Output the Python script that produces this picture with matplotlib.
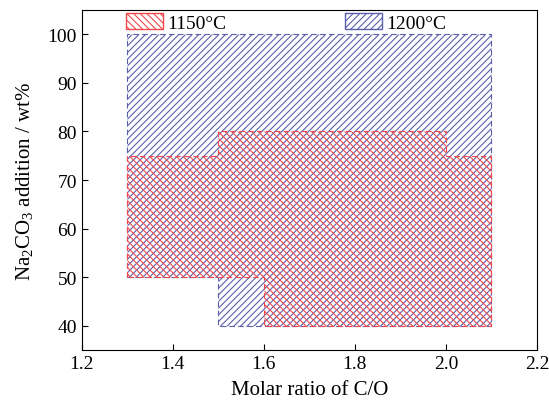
import matplotlib
matplotlib.use('Agg')
import matplotlib.pyplot as plt
from matplotlib.patches import Polygon, Patch

# region outlines (C/O ratio, Na2CO3 wt%)
co_1200 = [1.3, 1.3, 2.1, 2.1, 1.5, 1.5]
na_1200 = [50, 100, 100, 40, 40, 50]
co_1150 = [1.3, 1.3, 1.5, 1.5, 2.0, 2.0, 2.1, 2.1, 1.6, 1.6]
na_1150 = [50, 75, 75, 80, 80, 75, 75, 40, 40, 50]
labels = ['1150°C', '1200°C']
xticks = [1.2, 1.4, 1.6, 1.8, 2.0, 2.2]
yticks = [40, 50, 60, 70, 80, 90, 100]

plt.rcParams['font.family'] = ['Liberation Serif', 'DejaVu Serif']
plt.rcParams['hatch.linewidth'] = 0.8
plt.rcParams['mathtext.fontset'] = 'custom'
plt.rcParams['mathtext.rm'] = 'Liberation Serif'

blue = '#5a5fae'
red = '#f0484b'

fig = plt.figure(figsize=(5.49, 4.10), dpi=100)
ax = fig.add_axes([0.149, 0.144, 0.829, 0.829])

p1 = Polygon(list(zip(co_1200, na_1200)), closed=True, fill=False, hatch='/////',
             edgecolor=blue, linestyle=(0, (5, 3)), linewidth=0.8)
p2 = Polygon(list(zip(co_1150, na_1150)), closed=True, fill=False, hatch='\\\\\\\\\\',
             edgecolor=red, linestyle=(0, (5, 3)), linewidth=0.8)
ax.add_patch(p1)
ax.add_patch(p2)

h1 = Patch(facecolor='white', edgecolor=red, hatch='\\\\\\\\\\', label=labels[0])
h2 = Patch(facecolor='white', edgecolor=blue, hatch='/////', label=labels[1])
leg = ax.legend(handles=[h1, h2], loc='upper left', ncol=2, frameon=False, fontsize=14,
                bbox_to_anchor=(0.085, 1.008), handlelength=1.9, handleheight=0.88,
                handletextpad=0.2, columnspacing=6.1, borderaxespad=0.1,
                borderpad=0.2)

ax.set_xlim(1.2, 2.2)
ax.set_ylim(35, 105)
ax.set_xticks(xticks)
ax.set_xticklabels(['%.1f' % v for v in xticks])
ax.set_yticks(yticks)
ax.tick_params(direction='in', labelsize=14, length=4, width=0.8)
ax.set_xlabel('Molar ratio of C/O', fontsize=15, labelpad=6)
ax.set_ylabel('Na$_\\mathrm{2}$CO$_\\mathrm{3}$ addition / wt%', fontsize=15, labelpad=8)

fig.savefig('out.png', dpi=100)
